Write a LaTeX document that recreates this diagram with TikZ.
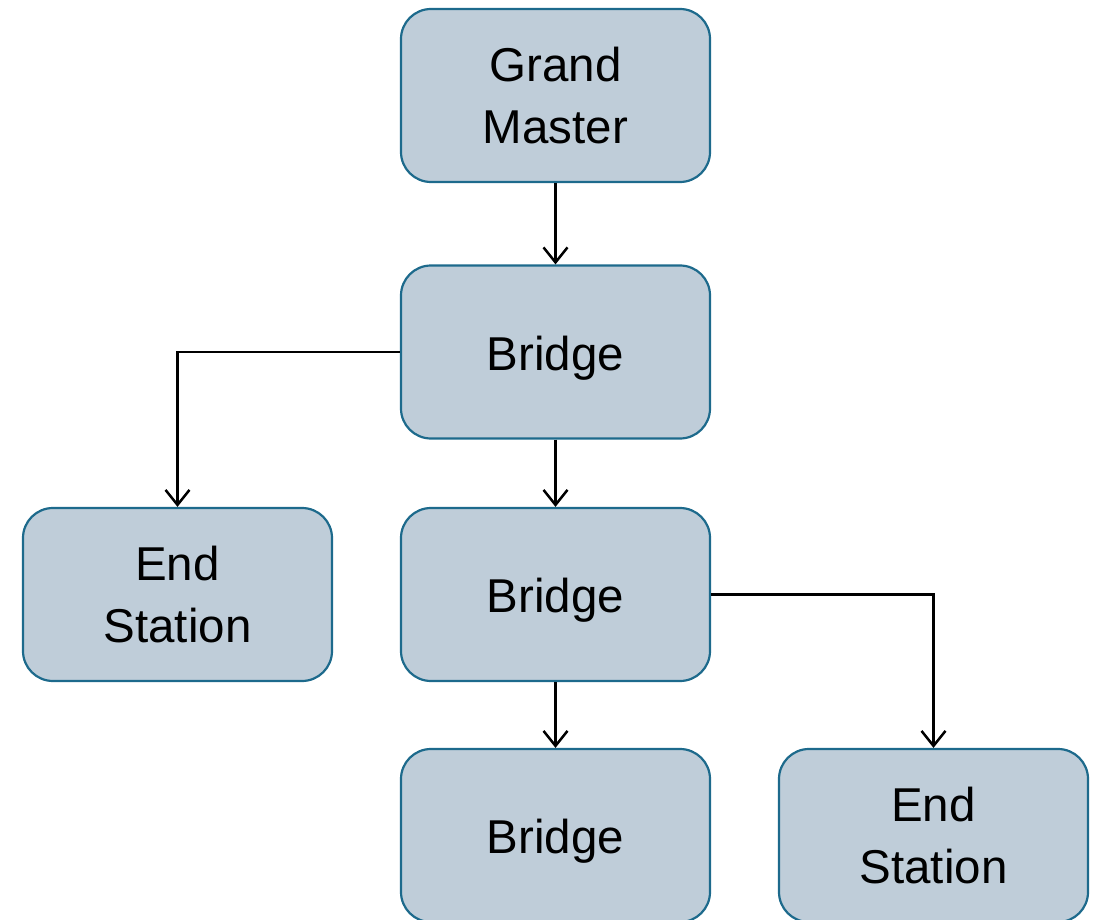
\documentclass[tikz,border=0pt]{standalone}
\usepackage{fontspec}
\setmainfont{Liberation Sans}
\usetikzlibrary{arrows.meta}
\definecolor{boxfill}{HTML}{BFCDD9}
\definecolor{boxline}{HTML}{1D6A8C}
\newcommand{\onel}[1]{\raisebox{-6pt}[\height][\depth]{#1}}
\begin{document}
\begin{tikzpicture}[x=1pt,y=-1pt,
  box/.style={draw=boxline,fill=boxfill,line width=2.2pt,rounded corners=30pt,
    minimum width=309pt,minimum height=173pt,inner sep=0pt,align=center,
    font=\fontsize{47.5}{62}\selectfont},
  conn/.style={draw=black,line width=2.5pt,-{Straight Barb[length=15pt,width=24pt,line width=2.5pt]}}]
\useasboundingbox (0,0) rectangle (1100,920);
\clip (0,0) rectangle (1100,920);
\node[box] (gm) at (555.5,95.5) {Grand\\Master};
\node[box] (b1) at (555.5,352) {\onel{Bridge}};
\node[box] (esl) at (177.5,594.5) {End\\Station};
\node[box] (b2) at (555.5,594.5) {\onel{Bridge}};
\node[box] (b3) at (555.5,835.5) {\onel{Bridge}};
\node[box] (esr) at (933.5,835.5) {End\\Station};
\draw[conn] (gm.south) -- (b1.north);
\draw[conn] (b1.west) -| (esl.north);
\draw[conn] (b1.south) -- (b2.north);
\draw[conn] (b2.east) -| (esr.north);
\draw[conn] (b2.south) -- (b3.north);
\end{tikzpicture}
\end{document}
